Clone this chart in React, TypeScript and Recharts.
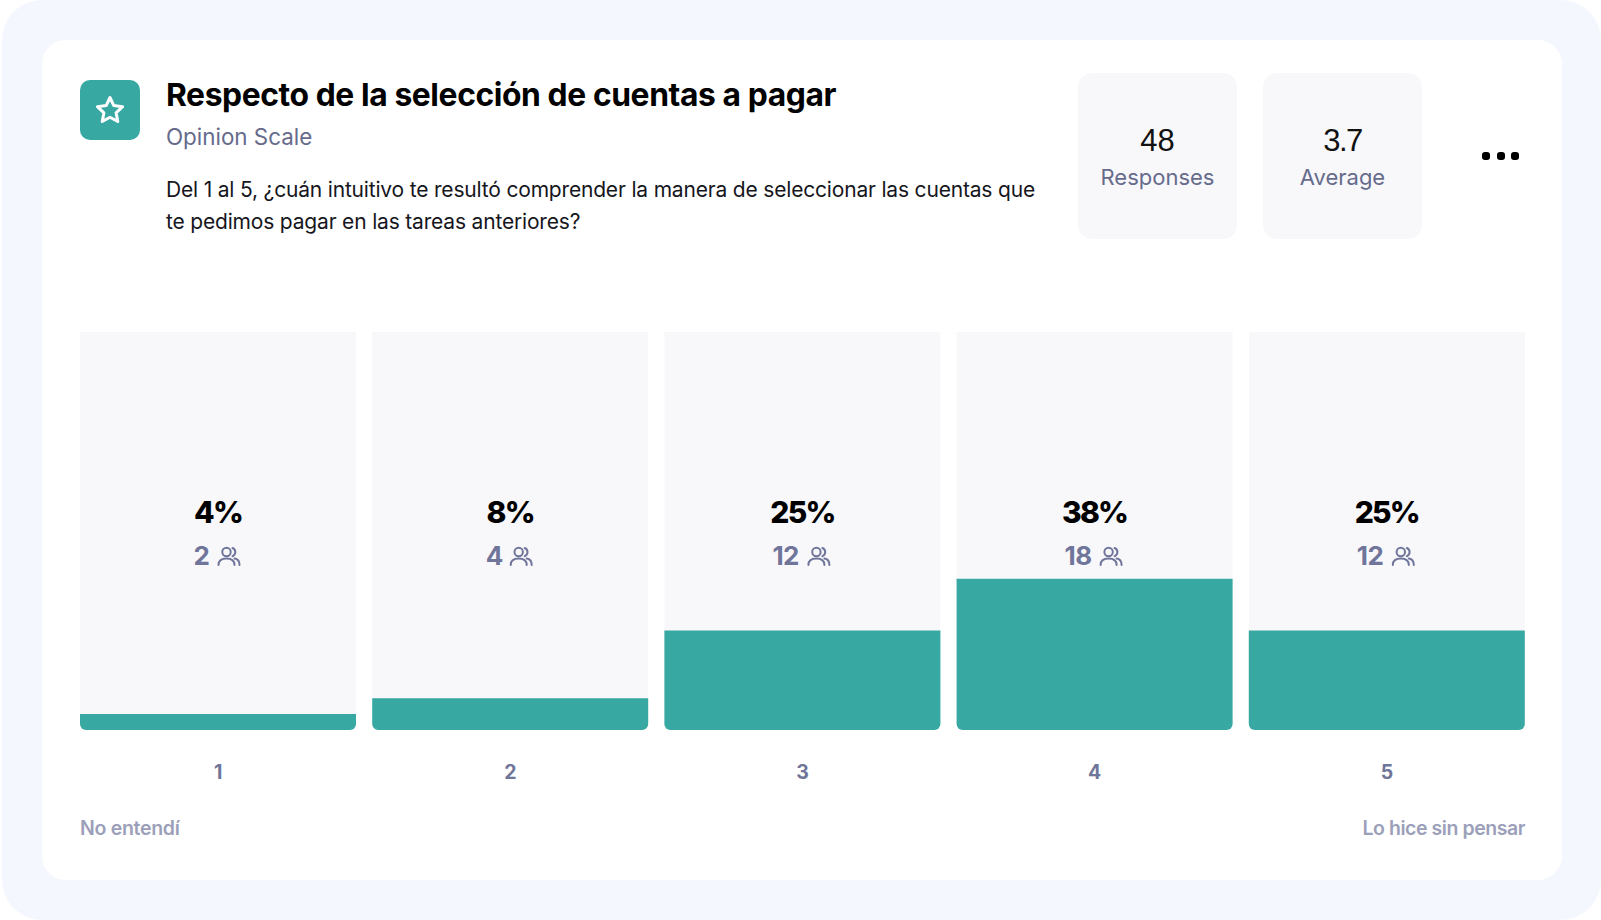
import React from "react";
import { BarChart, Bar, XAxis, YAxis, LabelList } from "recharts";

const categories = ["1", "2", "3", "4", "5"];
const percents = [4, 8, 25, 38, 25];
const counts = [2, 4, 12, 18, 12];
const title = "Respecto de la selección de cuentas a pagar";
const kind = "Opinion Scale";
const questionLines = [
  "Del 1 al 5, ¿cuán intuitivo te resultó comprender la manera de seleccionar las cuentas que",
  "te pedimos pagar en las tareas anteriores?",
];
const stats = [
  { value: "48", label: "Responses", spacing: 0 },
  { value: "3.7", label: "Average", spacing: -1.5 },
];
const leftAnchor = "No entendí";
const rightAnchor = "Lo hice sin pensar";

const rows = categories.map((c, i) => ({ name: c, pct: percents[i], count: counts[i] }));

const TEAL = "#38a8a2";
const PANEL = "#f8f8fb";
const MUTED = "#666b8c";
const TICK = "#70759a";
const SOFT = "#9c9fb9";
const FONT = "Inter, sans-serif";

const abs = (left: number, top: number, extra: React.CSSProperties = {}): React.CSSProperties => ({
  position: "absolute",
  left,
  top,
  whiteSpace: "nowrap",
  fontFamily: FONT,
  ...extra,
});

function BarCaption(props: any) {
  const { x, width, index } = props;
  const cx = x + width / 2;
  const digits = String(counts[index]).length;
  const numW = digits === 1 ? 15 : 26;
  const startX = cx - (numW + 9 + 23) / 2 - 1;
  const ix = startX + numW + 9;
  const iy = 215;
  return (
    <g>
      <text x={cx} y={191} textAnchor="middle" fontFamily={FONT} fontWeight={800} fontSize={30} letterSpacing={-1.8} fill="#000">
        {percents[index]}%
      </text>
      <text x={startX} y={233} fontFamily={FONT} fontWeight={700} fontSize={26} letterSpacing={-0.5} fill={TICK}>
        {counts[index]}
      </text>
      <g transform={`translate(${ix},${iy})`} fill="none" stroke={TICK} strokeWidth={2} strokeLinecap="round">
        <circle cx={9} cy={5} r={4.2} />
        <path d="M15 1 a4.4 4.4 0 0 1 0 8.2" />
        <path d="M1 18 c0 -4.5 3.5 -6.5 8 -6.5 s8 2 8 6.5" />
        <path d="M17 11.5 c3 .5 5 2.5 5 6.5" />
      </g>
    </g>
  );
}

export default function App() {
  return (
    <div style={{ position: "absolute", left: 0, top: 0, width: 1601, height: 920, background: "#fff", overflow: "hidden" }}>
      <div style={{ position: "absolute", left: 2, top: 0, width: 1599, height: 920, background: "#f4f7fd", borderRadius: 40 }} />
      <div style={{ position: "absolute", left: 42, top: 40, width: 1520, height: 840, background: "#fff", borderRadius: 24 }} />

      <div style={{ position: "absolute", left: 80, top: 80, width: 60, height: 60, background: TEAL, borderRadius: 10 }}>
        <svg width={60} height={60}>
          <path
            d="M30 17.5 L33.8 25.6 L42.6 26.7 L36.1 32.8 L37.8 41.5 L30 37.2 L22.2 41.5 L23.9 32.8 L17.4 26.7 L26.2 25.6 Z"
            fill="none"
            stroke="#fff"
            strokeWidth={3}
            strokeLinejoin="round"
          />
        </svg>
      </div>

      <div style={abs(166, 75, { fontSize: 31.8, lineHeight: "40px", fontWeight: 700, color: "#000", letterSpacing: -0.4 })}>{title}</div>
      <div style={abs(166, 123, { fontSize: 22.4, lineHeight: "28px", color: MUTED })}>{kind}</div>
      {questionLines.map((l, i) => (
        <div key={i} style={abs(166, 175 + i * 32, { fontSize: 21, lineHeight: "30px", letterSpacing: -0.18, color: "#16161d" })}>{l}</div>
      ))}

      {stats.map((s, i) => (
        <div key={s.label} style={{ position: "absolute", left: 1078 + i * 185, top: 73, width: 159, height: 166, background: PANEL, borderRadius: 14 }}>
          <div style={{ position: "absolute", left: 0, right: 0, top: 48, textAlign: "center", fontFamily: "'Liberation Sans', sans-serif", fontSize: 31, lineHeight: "40px", letterSpacing: s.spacing, color: "#111" }}>{s.value}</div>
          <div style={{ position: "absolute", left: 0, right: 0, top: 90, textAlign: "center", fontFamily: FONT, fontSize: 22, lineHeight: "28px", color: MUTED }}>{s.label}</div>
        </div>
      ))}
      {[1485.5, 1500.5, 1515].map((x) => (
        <div key={x} style={{ position: "absolute", left: x - 4, top: 152, width: 8, height: 8, background: "#000", borderRadius: 3 }} />
      ))}

      <div style={{ position: "absolute", left: 72, top: 332 }}>
        <BarChart
          width={1461}
          height={458}
          data={rows}
          margin={{ top: 0, right: 0, bottom: 0, left: 0 }}
          barCategoryGap={8}
        >
          <XAxis
            dataKey="name"
            axisLine={false}
            tickLine={false}
            height={60}
            tickMargin={29}
            tick={{ fontFamily: FONT, fontSize: 19.5, fontWeight: 700, fill: TICK }}
          />
          <YAxis hide domain={[0, 100]} />
          <Bar
            dataKey="pct"
            fill={TEAL}
            radius={[0, 0, 6, 6]}
            background={{ fill: PANEL, radius: [0, 0, 6, 6] } as any}
            isAnimationActive={false}
          >
            <LabelList dataKey="pct" content={BarCaption as any} />
          </Bar>
        </BarChart>
      </div>

      <div style={abs(80, 815, { fontSize: 19.5, lineHeight: "26px", fontWeight: 600, letterSpacing: -0.3, color: SOFT })}>{leftAnchor}</div>
      <div style={abs(1325, 815, { width: 200, textAlign: "right", fontSize: 19.5, lineHeight: "26px", fontWeight: 600, letterSpacing: -0.45, color: SOFT })}>{rightAnchor}</div>
    </div>
  );
}
